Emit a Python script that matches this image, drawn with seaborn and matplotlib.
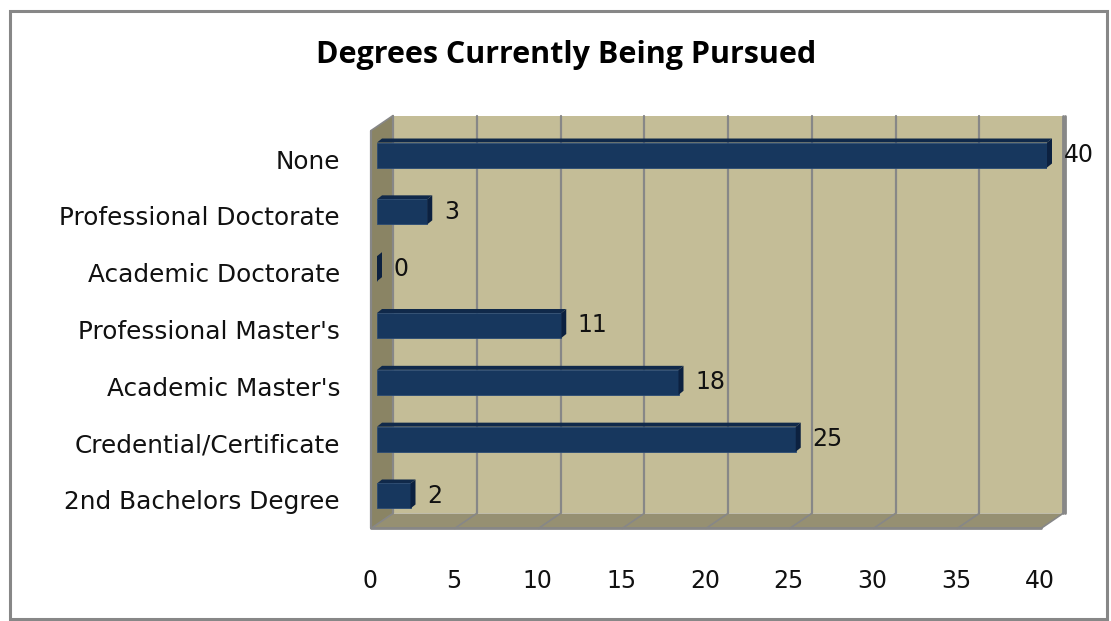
import numpy as np
import pandas as pd
import matplotlib
matplotlib.use("Agg")
import matplotlib.pyplot as plt
import seaborn as sns
from matplotlib.patches import Polygon, Rectangle
from matplotlib.lines import Line2D
from matplotlib.transforms import IdentityTransform, ScaledTranslation

# ---------------- data ----------------
categories = ["None", "Professional Doctorate", "Academic Doctorate",
              "Professional Master's", "Academic Master's",
              "Credential/Certificate", "2nd Bachelors Degree"]
counts = [40, 3, 0, 11, 18, 25, 2]
x_ticks = [0, 5, 10, 15, 20, 25, 30, 35, 40]
title = "Degrees Currently Being Pursued"

# ---------------- style ----------------
sns.set_theme(style="white")
plt.rcParams['font.family'] = ['DejaVu Sans']

W, H = 1111, 621
fig = plt.figure(figsize=(W / 100, H / 100), dpi=100)
fig.patch.set_facecolor('white')

ax_l, ax_r, ax_t, ax_b = 377, 1047, 126.6, 524.4
ax = fig.add_axes([ax_l / W, 1 - ax_b / H, (ax_r - ax_l) / W, (ax_b - ax_t) / H])
ax.set_facecolor('none')

df = pd.DataFrame({"degree": categories, "count": counts})
sns.barplot(data=df, x="count", y="degree", orient="h", color="#17375E",
            width=0.44, saturation=1, ax=ax, zorder=5,
            edgecolor="#2B4B73", linewidth=0.6)
ax.set_xlim(0, 40)
ax.set_ylim(6.5, -0.5)
ax.set_xticks(x_ticks)
ax.set_xticklabels([str(t) for t in x_ticks])
ax.set_xlabel("")
ax.set_ylabel("")
for s in ax.spines.values():
    s.set_visible(False)
ax.tick_params(axis='x', length=0, pad=32, labelsize=17, colors='#111111')
ax.tick_params(axis='y', length=0, pad=26.6, labelsize=17.8, colors='#111111')
for lab in ax.get_xticklabels():
    lab.set_transform(lab.get_transform() + ScaledTranslation(-7 / 100, 0, fig.dpi_scale_trans))
for lab in ax.get_yticklabels():
    lab.set_transform(lab.get_transform() + ScaledTranslation(0, -4 / 100, fig.dpi_scale_trans))

# ---------------- pseudo-3D decoration ----------------
BACK = np.array([16.0, 11.0])
FRONT = np.array([-6.0, -4.0])
DEPTH = np.array([5.0, 4.0])
GRID = '#878787'

def D(x, y):
    return ax.transData.transform((x, y))

def poly(pts, fc, z, ec='none', lw=0):
    p = Polygon(np.array(pts), closed=True, facecolor=fc, edgecolor=ec, linewidth=lw,
                transform=IdentityTransform(), zorder=z, clip_on=False)
    ax.add_patch(p)

def line(p0, p1, z, lw=1.5, c=GRID):
    l = Line2D([p0[0], p1[0]], [p0[1], p1[1]], color=c, linewidth=lw,
               transform=IdentityTransform(), zorder=z, clip_on=False)
    ax.add_line(l)

x0, x1 = x_ticks[0], x_ticks[-1]
ytop, ybot = -0.5, 6.5
# back wall
poly([D(x0, ytop) + BACK, D(x1, ytop) + BACK, D(x1, ybot) + BACK, D(x0, ybot) + BACK], '#C4BD97', 0.5)
# left wall
poly([D(x0, ytop) + BACK, D(x0, ybot) + BACK, D(x0, ybot) + FRONT, D(x0, ytop) + FRONT], '#8A8464', 0.6)
# floor
poly([D(x0, ybot) + BACK, D(x1, ybot) + BACK, D(x1, ybot) + FRONT, D(x0, ybot) + FRONT], '#969072', 0.6)
# grid lines on wall and floor
for t in x_ticks:
    line(D(t, ytop) + BACK, D(t, ybot) + BACK, 0.8, lw=2.0 if t == x1 else 1.6)
    line(D(t, ybot) + BACK, D(t, ybot) + FRONT, 0.8, lw=1.2)
# outline edges
line(D(x0, ytop) + FRONT, D(x0, ybot) + FRONT, 0.9, lw=1.6)
line(D(x0, ytop) + FRONT, D(x0, ytop) + BACK, 0.9, lw=1.2)
line(D(x0, ybot) + FRONT, D(x1, ybot) + FRONT, 0.9, lw=2.0)
line(D(x1, ytop) + BACK + np.array([2, 0]), D(x1, ybot) + BACK + np.array([2, 0]), 0.9, lw=2.0)

# bar top and side faces, from the bars seaborn drew
for bar in ax.patches[:]:
    if not isinstance(bar, Rectangle) or bar.get_zorder() != 5:
        continue
    bx, by = bar.get_x(), bar.get_y()
    bw, bh = bar.get_width(), bar.get_height()
    tl = D(bx, by)          # top-left (y inverted: by is upper edge)
    tr = D(bx + bw, by)
    br = D(bx + bw, by + bh)
    poly([tl, tr, tr + DEPTH, tl + DEPTH], '#10294A', 4.9)
    poly([tr, br, br + DEPTH, tr + DEPTH], '#0C2140', 5.1)

ax.bar_label(ax.containers[0], labels=[str(v) for v in counts], padding=12,
             fontsize=17, color='#111111')

fig.text(566 / W, 1 - 55 / H, title, ha='center', va='center', fontsize=22,
         fontweight='bold', family=['Open Sans', 'DejaVu Sans'], color='black')

# outer border
fig.add_artist(Rectangle((9.5 / W, 1 - 619 / H), (1107 - 9.5) / W, (619 - 10.5) / H,
                         transform=fig.transFigure, fill=False, edgecolor=GRID, linewidth=2.2))

fig.savefig("out.png", dpi=100, facecolor='white')
